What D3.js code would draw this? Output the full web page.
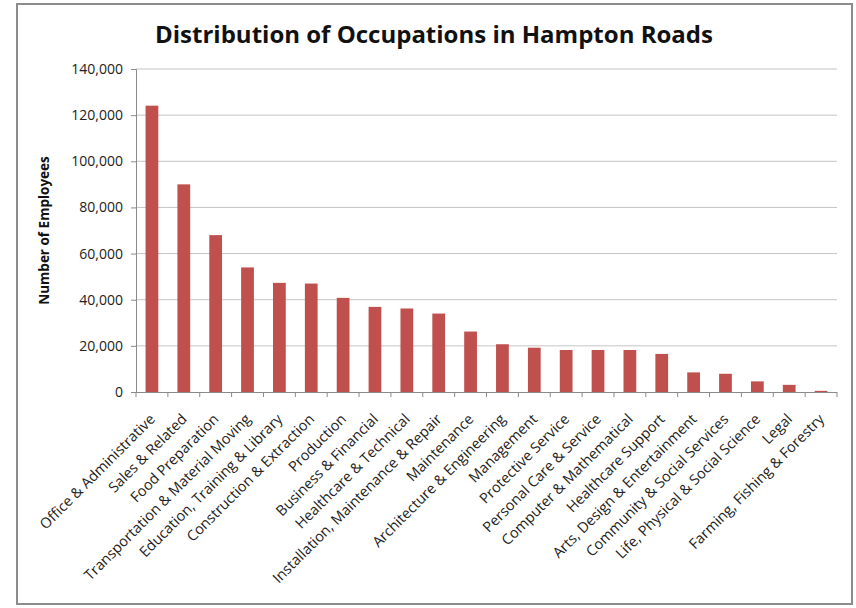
<!DOCTYPE html>
<html>
<head>
<meta charset="utf-8">
<script src="https://cdn.jsdelivr.net/npm/d3@7"></script>
<style>
  body { margin: 0; background: #fff; }
</style>
</head>
<body>
<div id="chart"></div>
<script>
// ------------------------------------------------------
// Chart data
const categories = [
	'Office & Administrative', 'Sales & Related', 'Food Preparation',
	'Transportation & Material Moving', 'Education, Training & Library',
	'Construction & Extraction', 'Production', 'Business & Financial',
	'Healthcare & Technical', 'Installation, Maintenance & Repair',
	'Maintenance', 'Architecture & Engineering', 'Management',
	'Protective Service', 'Personal Care & Service', 'Computer & Mathematical',
	'Healthcare Support', 'Arts, Design & Entertainment',
	'Community & Social Services', 'Life, Physical & Social Science',
	'Legal', 'Farming, Fishing & Forestry'
]
const employees = [
	124100, 90000, 68000, 54000, 47300, 47000, 40800, 36900, 36200, 34000,
	26200, 20700, 19200, 18200, 18200, 18200, 16500, 8500, 7900, 4600,
	3100, 500
]
const yTicks = [0, 20000, 40000, 60000, 80000, 100000, 120000, 140000]

// ------------------------------------------------------
// Size of the page and plot area
const width = 856
const height = 608
const plot = { left: 136, right: 837, top: 69, bottom: 392 }

const svg = d3.select('#chart')
	.append('svg')
	.attr('width', width)
	.attr('height', height)
	.style('font-family', 'Open Sans, sans-serif')

// Outer chart frame
svg.append('rect')
	.attr('x', 17)
	.attr('y', 4)
	.attr('width', 835)
	.attr('height', 600)
	.attr('fill', '#fff')
	.attr('stroke', '#8d8d8d')
	.attr('stroke-width', 2)

// Scales
const x = d3.scaleBand()
	.domain(categories)
	.range([plot.left, plot.right])
	.paddingInner(0.6)
	.paddingOuter(0.3)

const xBounds = d3.scaleLinear()
	.domain([0, categories.length])
	.range([plot.left, plot.right])

const y = d3.scaleLinear()
	.domain([0, 140000])
	.range([plot.bottom, plot.top])

// Horizontal gridlines
svg.append('g')
	.selectAll('line')
	.data(yTicks.filter(d => d > 0))
	.enter()
	.append('line')
	.attr('x1', plot.left)
	.attr('x2', plot.right)
	.attr('y1', d => y(d))
	.attr('y2', d => y(d))
	.attr('stroke', '#c4c4c4')
	.attr('stroke-width', 1)

// Y axis
const yAxis = svg.append('g')
	.attr('transform', `translate(${plot.left},0)`)
	.call(d3.axisLeft(y).tickValues(yTicks).tickSize(5).tickPadding(8)
		.tickFormat(d3.format(',')))
yAxis.select('.domain').attr('stroke', '#8a8a8a')
yAxis.selectAll('.tick line').attr('stroke', '#8a8a8a')
yAxis.selectAll('.tick text')
	.attr('font-size', 14)
	.attr('font-family', 'Open Sans, sans-serif')
	.attr('fill', '#222')

// Bars
svg.append('g')
	.selectAll('rect')
	.data(categories)
	.enter()
	.append('rect')
	.attr('x', d => x(d))
	.attr('width', x.bandwidth())
	.attr('y', (d, i) => y(employees[i]))
	.attr('height', (d, i) => y(0) - y(employees[i]))
	.attr('fill', '#c0504d')

// X axis line and ticks between the categories
svg.append('line')
	.attr('x1', plot.left)
	.attr('x2', plot.right)
	.attr('y1', plot.bottom + 0.5)
	.attr('y2', plot.bottom + 0.5)
	.attr('stroke', '#8a8a8a')

svg.append('g')
	.selectAll('line')
	.data(d3.range(categories.length + 1))
	.enter()
	.append('line')
	.attr('x1', d => xBounds(d))
	.attr('x2', d => xBounds(d))
	.attr('y1', plot.bottom)
	.attr('y2', plot.bottom + 5)
	.attr('stroke', '#8a8a8a')

// Category labels, rotated 45 degrees
svg.append('g')
	.selectAll('text')
	.data(categories)
	.enter()
	.append('text')
	.text(d => d)
	.attr('transform', d => `translate(${x(d) + x.bandwidth() / 2 + 4},${plot.bottom + 28}) rotate(-45)`)
	.attr('text-anchor', 'end')
	.attr('font-size', 14.5)
	.attr('fill', '#222')

// Y axis title
svg.append('text')
	.text('Number of Employees')
	.attr('transform', `translate(49,${(plot.top + plot.bottom) / 2}) rotate(-90)`)
	.attr('text-anchor', 'middle')
	.attr('font-size', 13.5)
	.attr('font-weight', 'bold')
	.attr('fill', '#111')

// Chart title
svg.append('text')
	.text('Distribution of Occupations in Hampton Roads')
	.attr('x', 434)
	.attr('y', 43)
	.attr('text-anchor', 'middle')
	.attr('font-size', 24)
	.attr('font-weight', 'bold')
	.attr('fill', '#111')
</script>
</body>
</html>
